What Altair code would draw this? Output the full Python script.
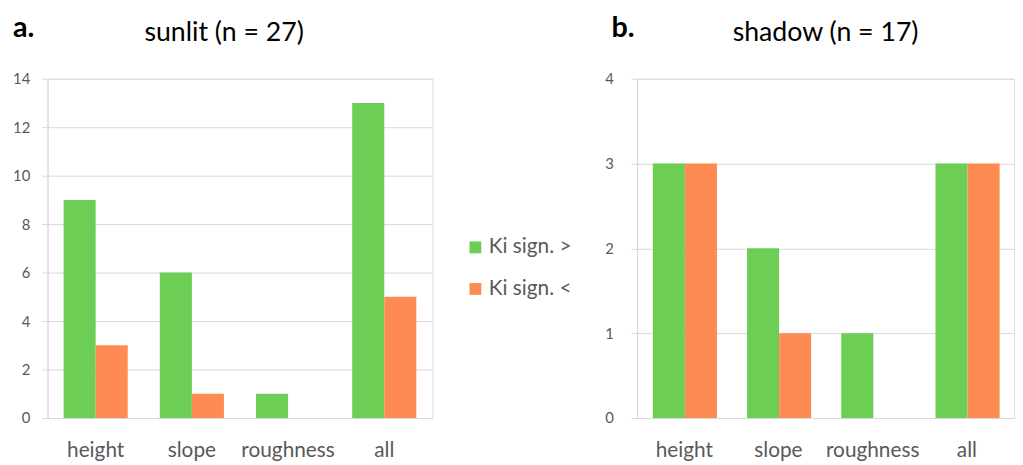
import altair as alt
import pandas as pd

categories = ["height", "slope", "roughness", "all"]
series = ["Ki sign. >", "Ki sign. <"]
sunlit_gt = [9, 6, 1, 13]
sunlit_lt = [3, 1, 0, 5]
shadow_gt = [3, 2, 1, 3]
shadow_lt = [3, 1, 0, 3]
colors = ["#6dce55", "#fe8c52"]
FONT = "Lato"


def long_df(gt, lt):
    rows = []
    for c, a, b in zip(categories, gt, lt):
        rows.append({"category": c, "series": series[0], "value": a})
        rows.append({"category": c, "series": series[1], "value": b})
    return pd.DataFrame(rows)


def panel(df, title, letter, letter_x, ymax, ystep, width, title_dx, lab_pad):
    bars = alt.Chart(df).mark_bar().encode(
        x=alt.X("category:N", sort=categories, title=None,
                scale=alt.Scale(paddingInner=1 / 3, paddingOuter=1 / 6),
                axis=alt.Axis(labelAngle=0, ticks=False, domainColor="#d9d9d9",
                              labelFontSize=21, labelColor="#595959",
                              labelPadding=22, labelFont=FONT)),
        xOffset=alt.XOffset("series:N", sort=series),
        y=alt.Y("value:Q", title=None,
                scale=alt.Scale(domain=[0, ymax], nice=False),
                axis=alt.Axis(values=list(range(0, ymax + 1, ystep)),
                              gridColor="#d9d9d9", domainColor="#d9d9d9",
                              tickColor="#d9d9d9", tickSize=6,
                              labelPadding=lab_pad, labelFontSize=15,
                              labelColor="#595959", labelFont=FONT)),
        color=alt.Color("series:N", sort=series,
                        scale=alt.Scale(domain=series, range=colors),
                        legend=alt.Legend(title=None, orient="none",
                                          legendX=422, legendY=160,
                                          symbolType="square", symbolSize=144,
                                          symbolStrokeWidth=0,
                                          labelFontSize=21, labelColor="#595959",
                                          labelFont=FONT, rowPadding=20,
                                          labelOffset=3)),
    )
    lab = alt.Chart(pd.DataFrame({"t": [letter]})).mark_text(
        align="left", baseline="alphabetic", fontSize=29, fontWeight="bold",
        font=FONT, color="#000000"
    ).encode(text="t:N", x=alt.value(letter_x), y=alt.value(-42))
    return alt.layer(bars, lab).properties(
        width=width, height=343,
        title=alt.TitleParams(title, fontSize=27, fontWeight="normal", font=FONT,
                              color="#000000", anchor="middle", dx=title_dx,
                              baseline="alphabetic", offset=-54),
    )


left = panel(long_df(sunlit_gt, sunlit_lt), "sunlit (n = 27)", "a.", -35, 14, 2, 389, -16, 12)
right = panel(long_df(shadow_gt, shadow_lt), "shadow (n = 17)", "b.", -26, 4, 1, 381, 0, 18)

chart = alt.hconcat(left, right, spacing=172).properties(
    padding={"left": 4, "top": 3, "right": 0, "bottom": 0}
).configure_view(stroke=None).configure(font=FONT)

chart.save("out.html", embed_options={"renderer": "svg", "actions": False})
